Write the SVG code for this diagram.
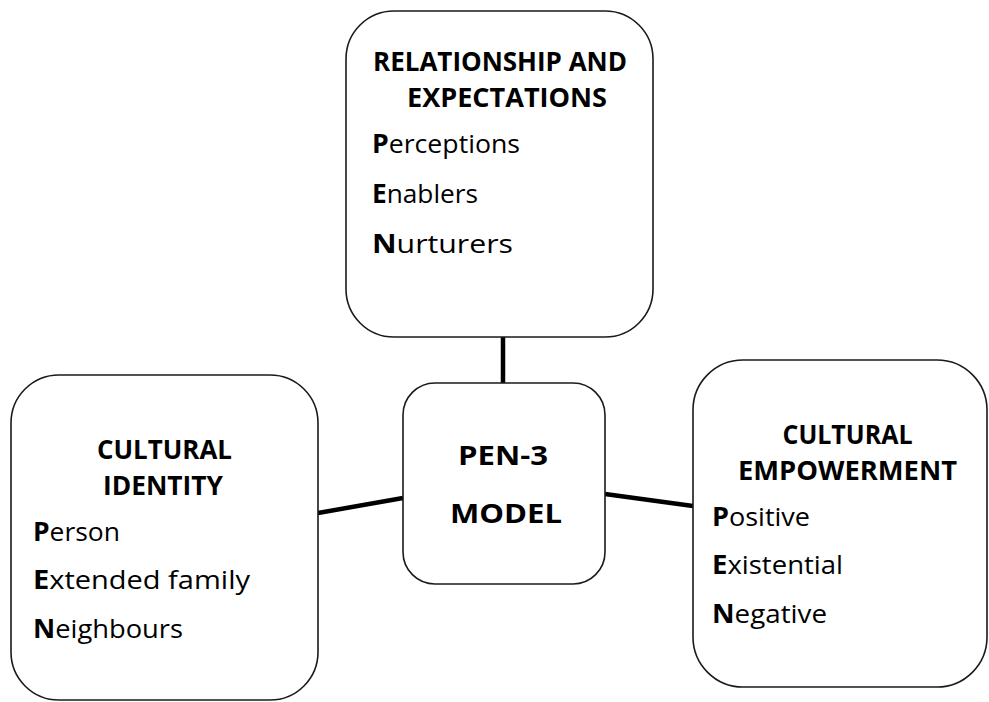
<svg xmlns="http://www.w3.org/2000/svg" width="989" height="702" viewBox="0 0 989 702">
<style>
.box{fill:#fff;stroke:#1a1a1a;stroke-width:1.6}
.con{stroke:#000;stroke-width:4.5;fill:none}
.h{font-family:"Open Sans","Liberation Sans",sans-serif;font-weight:bold;font-size:26px;fill:#000;text-anchor:middle}
.b{font-family:"Open Sans","Liberation Sans",sans-serif;font-size:26px;fill:#000}
.b tspan.k{font-weight:bold}
</style>
<rect width="989" height="702" fill="#fff"/>
<g id="connectors">
<line class="con" x1="503" y1="337" x2="503" y2="383"/>
<line class="con" x1="318" y1="513" x2="403" y2="498"/>
<line class="con" x1="605" y1="494" x2="693" y2="506"/>
</g>
<g id="node-relationship">
<rect class="box" x="346" y="11" width="307" height="326" rx="48"/>
<text class="h" x="500" y="71" textLength="254" lengthAdjust="spacingAndGlyphs">RELATIONSHIP AND</text>
<text class="h" x="507" y="107" textLength="200" lengthAdjust="spacingAndGlyphs">EXPECTATIONS</text>
<text class="b" x="372" y="153" textLength="148" lengthAdjust="spacingAndGlyphs"><tspan class="k">P</tspan>erceptions</text>
<text class="b" x="372" y="203" textLength="106" lengthAdjust="spacingAndGlyphs"><tspan class="k">E</tspan>nablers</text>
<text class="b" x="372" y="253" textLength="141" lengthAdjust="spacingAndGlyphs"><tspan class="k">N</tspan>urturers</text>
</g>
<g id="node-identity">
<rect class="box" x="11" y="375" width="307" height="325" rx="48"/>
<text class="h" x="164.5" y="459" textLength="135" lengthAdjust="spacingAndGlyphs">CULTURAL</text>
<text class="h" x="163" y="495" textLength="120" lengthAdjust="spacingAndGlyphs">IDENTITY</text>
<text class="b" x="33" y="541" textLength="87" lengthAdjust="spacingAndGlyphs"><tspan class="k">P</tspan>erson</text>
<text class="b" x="33" y="589" textLength="217" lengthAdjust="spacingAndGlyphs"><tspan class="k">E</tspan>xtended family</text>
<text class="b" x="33" y="638" textLength="150" lengthAdjust="spacingAndGlyphs"><tspan class="k">N</tspan>eighbours</text>
</g>
<g id="node-model">
<rect class="box" x="403" y="383" width="202" height="201" rx="32"/>
<text class="h" x="503" y="465" font-size="28" textLength="90" lengthAdjust="spacingAndGlyphs">PEN-3</text>
<text class="h" x="506" y="523" font-size="28" textLength="112" lengthAdjust="spacingAndGlyphs">MODEL</text>
</g>
<g id="node-empowerment">
<rect class="box" x="693" y="360" width="294" height="327" rx="50"/>
<text class="h" x="847.5" y="444" textLength="130" lengthAdjust="spacingAndGlyphs">CULTURAL</text>
<text class="h" x="847.5" y="480" textLength="219" lengthAdjust="spacingAndGlyphs">EMPOWERMENT</text>
<text class="b" x="712" y="526" textLength="98" lengthAdjust="spacingAndGlyphs"><tspan class="k">P</tspan>ositive</text>
<text class="b" x="712" y="574" textLength="131" lengthAdjust="spacingAndGlyphs"><tspan class="k">E</tspan>xistential</text>
<text class="b" x="712" y="623" textLength="115" lengthAdjust="spacingAndGlyphs"><tspan class="k">N</tspan>egative</text>
</g>
</svg>
